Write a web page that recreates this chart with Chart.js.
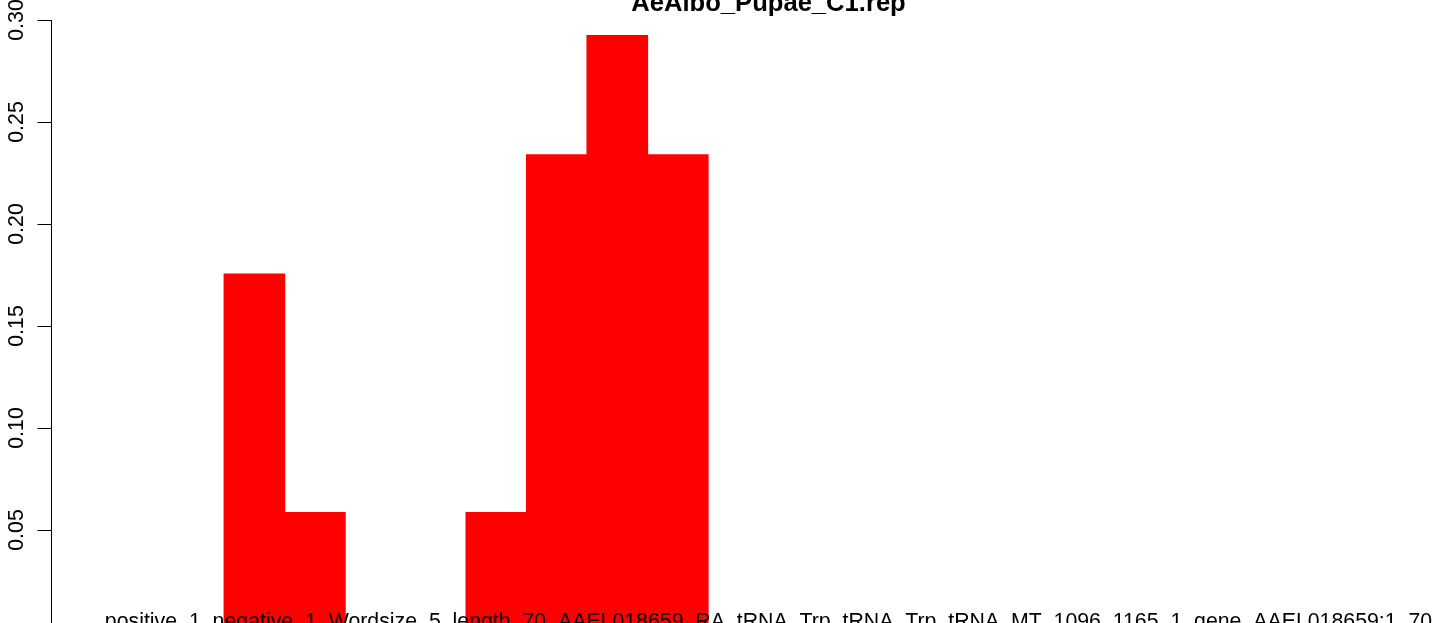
<!DOCTYPE html>
<html><head><meta charset="utf-8">
<script src="https://cdn.jsdelivr.net/npm/chart.js@4.4.1/dist/chart.umd.min.js"></script>
<style>
html,body{margin:0;padding:0;overflow:hidden;background:#fff;width:1444px;height:623px}
#wrap{position:absolute;left:0;top:0;width:1500px;height:680px}
</style>
</head><body>
<div id="wrap"><canvas id="c" width="1500" height="680"></canvas></div>
<script>
// ---- data ----
const titleText = 'AeAlbo_Pupae_C1.rep';
const xLabelText = 'positive_1_negative_1_Wordsize_5_length_70_AAEL018659_RA_tRNA_Trp_tRNA_Trp_tRNA_MT_1096_1165_1_gene_AAEL018659:1_70';
const categories = ['1','2','3','4','5','6','7','8','9','10','11','12','13','14','15','16','17','18','19','20','21','22'];
const values = [0, 0, 0.1754, 0.0585, 0, 0, 0.0585, 0.2339, 0.2924, 0.2339, 0, 0, 0, 0, 0, 0, 0, 0, 0, 0, 0, 0];
const yTicks = [0, 0.05, 0.10, 0.15, 0.20, 0.25, 0.30];
const yTickLabels = ['0', '0.05', '0.10', '0.15', '0.20', '0.25', '0.30'];

const FONT = '"Liberation Sans", Arial, Helvetica, sans-serif';
const n = categories.length;
const ext = 0.04 * n;

const rAxisPlugin = {
  id: 'rAxis',
  afterDraw(chart) {
    const ctx = chart.ctx;
    const y = chart.scales.y;
    const a = chart.chartArea;
    ctx.save();
    ctx.strokeStyle = '#000';
    ctx.fillStyle = '#000';
    ctx.lineWidth = 1;
    const ax = a.left + 1.5;
    const y0 = y.getPixelForValue(yTicks[0]);
    const y1 = y.getPixelForValue(yTicks[yTicks.length - 1]);
    ctx.beginPath();
    ctx.moveTo(ax, y0);
    ctx.lineTo(ax, y1);
    ctx.stroke();
    ctx.font = '21.3px ' + FONT;
    ctx.textAlign = 'center';
    ctx.textBaseline = 'alphabetic';
    yTicks.forEach((t, i) => {
      const py = Math.round(y.getPixelForValue(t)) + 0.5;
      ctx.beginPath();
      ctx.moveTo(ax, py);
      ctx.lineTo(ax - 14, py);
      ctx.stroke();
      ctx.save();
      ctx.translate(23, y.getPixelForValue(t));
      ctx.rotate(-Math.PI / 2);
      ctx.fillText(yTickLabels[i], 0, 0);
      ctx.restore();
    });
    const cx = (a.left + a.right) / 2;
    ctx.font = 'bold 25.6px ' + FONT;
    ctx.fillText(titleText, cx, 11);
    ctx.font = '21.3px ' + FONT;
    ctx.fillText(xLabelText, cx, 628);
    ctx.restore();
  }
};

new Chart(document.getElementById('c'), {
  type: 'bar',
  data: {
    datasets: [{
      data: categories.map((c, i) => ({ x: i + 0.5, y: values[i] })),
      backgroundColor: '#ff0000',
      borderWidth: 0,
      inflateAmount: 0.6,
      barPercentage: 1,
      categoryPercentage: 1
    }]
  },
  options: {
    responsive: false,
    devicePixelRatio: 1,
    animation: false,
    layout: { padding: { left: 50, right: 13, top: 20, bottom: 48 } },
    plugins: { legend: { display: false }, tooltip: { enabled: false }, title: { display: false } },
    scales: {
      x: { type: 'linear', min: -ext, max: n + ext, offset: false, display: false },
      y: { type: 'linear', min: 0, max: 0.30, display: false }
    }
  },
  plugins: [rAxisPlugin]
});
</script>
</body></html>
